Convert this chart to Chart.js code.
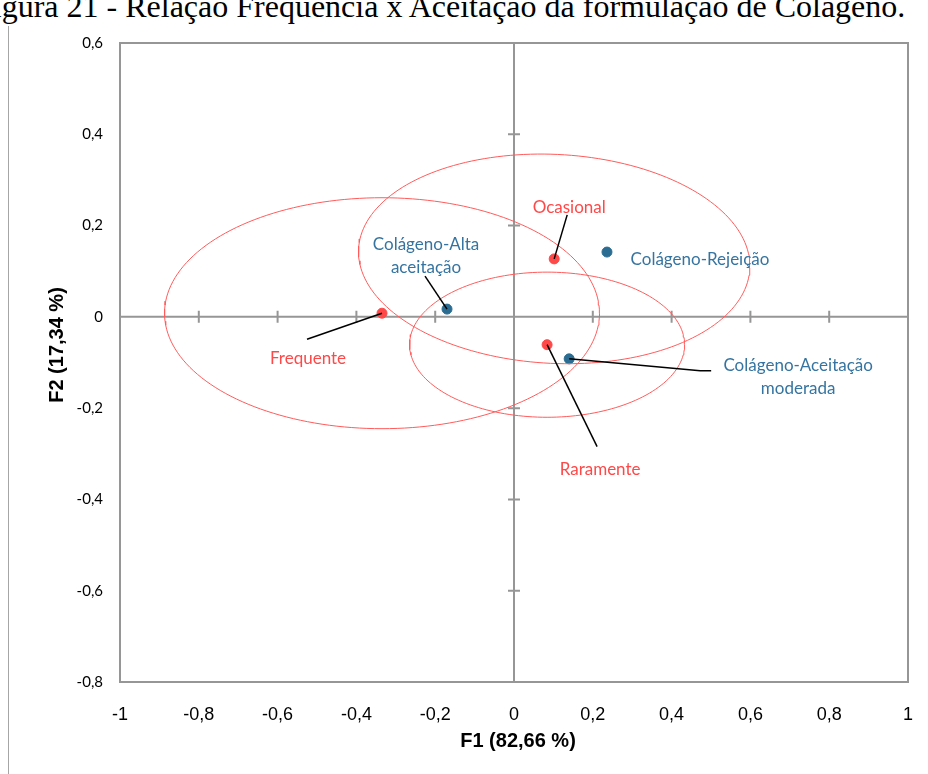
<!DOCTYPE html>
<html lang="pt">
<head>
<meta charset="utf-8">
<title>Relação Frequência x Aceitação</title>
<script src="https://cdn.jsdelivr.net/npm/chart.js"></script>
<style>
  html, body { margin: 0; padding: 0; background: #fff; }
  #pagina { position: relative; width: 928px; height: 774px; overflow: hidden; }
  #legenda { position: absolute; left: -25px; top: -10px; font: 32px "Liberation Serif", "Times New Roman", serif;
             line-height: 1; white-space: nowrap; color: #000; }
  #margem { position: absolute; left: 8px; top: 26px; bottom: 0; width: 1px; background: #a6a6a6; }
  #grafico { position: absolute; left: 0; top: 0; }
</style>
</head>
<body>
<div id="pagina">
  <div id="legenda">Figura 21 - Relação Frequência x Aceitação da formulação de Colágeno.</div>
  <div id="margem"></div>
  <canvas id="grafico" width="928" height="774"></canvas>
</div>
<script>
// frequência de consumo (F1, F2)
const frequencias = ['Frequente', 'Ocasional', 'Raramente'];
const freqF1 = [-0.335, 0.102, 0.084];
const freqF2 = [0.008, 0.127, -0.061];

// elipses de confiança em torno de cada frequência: semi-eixos e rotação (rad)
const elipseSemiF1 = [0.552, 0.497, 0.349];
const elipseSemiF2 = [0.253, 0.229, 0.159];
const elipseRot = [0, -0.04, 0];

// aceitação da formulação
const aceitacoes = ['Colágeno-Alta aceitação', 'Colágeno-Rejeição', 'Colágeno-Aceitação moderada'];
const aceF1 = [-0.170, 0.236, 0.140];
const aceF2 = [0.017, 0.142, -0.092];

const ticksF1 = [-1, -0.8, -0.6, -0.4, -0.2, 0, 0.2, 0.4, 0.6, 0.8, 1];
const ticksF2 = [-0.8, -0.6, -0.4, -0.2, 0, 0.2, 0.4, 0.6];

const VERMELHO = '#ff4848';
const AZUL = '#2b6d92';
const AZUL_TEXTO = '#3574a0';
const CINZA = '#969696';

// onde fica o centro do texto de cada ponto (deslocamento em px) e a linha guia
const rotulosFreq = [
  { linhas: ['Frequente'], texto: [-74, 45], guia: [[-75, 26]] },
  { linhas: ['Ocasional'], texto: [15, -51], guia: [[13, -44]] },
  { linhas: ['Raramente'], texto: [53, 125], guia: [[50, 102]] }
];
const rotulosAce = [
  { linhas: ['Colágeno-Alta', 'aceitação'], texto: [-21, -65], guia: [[-22, -33]] },
  { linhas: ['Colágeno-Rejeição'], texto: [93, 7], guia: [] },
  { linhas: ['Colágeno-Aceitação', 'moderada'], texto: [229, 7], guia: [[131, 12], [142, 12]] }
];

function contornoElipse(i) {
  const pts = [];
  const cr = Math.cos(elipseRot[i]), sr = Math.sin(elipseRot[i]);
  for (let k = 0; k <= 180; k++) {
    const t = k / 180 * 2 * Math.PI;
    const a = elipseSemiF1[i] * Math.cos(t), b = elipseSemiF2[i] * Math.sin(t);
    pts.push({ x: freqF1[i] + a * cr - b * sr, y: freqF2[i] + a * sr + b * cr });
  }
  return pts;
}

function formatarTick(v) {
  return String(Math.round(v * 10) / 10).replace('.', ',');
}

const molduraEixos = {
  id: 'molduraEixos',
  beforeDatasetsDraw(chart) {
    const { ctx, chartArea: a, scales: { x, y } } = chart;
    const x0 = x.getPixelForValue(0), y0 = y.getPixelForValue(0);
    ctx.save();
    ctx.strokeStyle = CINZA;
    ctx.lineWidth = 2;
    ctx.strokeRect(a.left, a.top, a.width, a.height);
    ctx.beginPath();
    ctx.moveTo(a.left, y0); ctx.lineTo(a.right, y0);
    ctx.moveTo(x0, a.top); ctx.lineTo(x0, a.bottom);
    ticksF1.slice(1, -1).forEach(v => {
      const px = x.getPixelForValue(v);
      ctx.moveTo(px, y0 - 6); ctx.lineTo(px, y0 + 6);
    });
    ticksF2.slice(1, -1).forEach(v => {
      const py = y.getPixelForValue(v);
      ctx.moveTo(x0 - 6, py); ctx.lineTo(x0 + 6, py);
    });
    ctx.stroke();
    ctx.restore();
  }
};

function desenharRotulos(ctx, meta, rotulos, cor) {
  meta.data.forEach((el, i) => {
    const r = rotulos[i];
    if (r.guia.length) {
      ctx.beginPath();
      ctx.moveTo(el.x, el.y);
      r.guia.forEach(p => ctx.lineTo(el.x + p[0], el.y + p[1]));
      ctx.strokeStyle = '#000';
      ctx.lineWidth = 1.5;
      ctx.stroke();
    }
    ctx.fillStyle = cor;
    ctx.textBaseline = 'middle';
    ctx.textAlign = 'center';
    r.linhas.forEach((linha, j) => {
      ctx.fillText(linha, el.x + r.texto[0], el.y + r.texto[1] + j * 23);
    });
  });
}

const rotulosPontos = {
  id: 'rotulosPontos',
  afterDatasetsDraw(chart) {
    const { ctx, chartArea: a } = chart;
    ctx.save();
    ctx.font = '17px Lato, "Open Sans", sans-serif';
    desenharRotulos(ctx, chart.getDatasetMeta(3), rotulosFreq, VERMELHO);
    desenharRotulos(ctx, chart.getDatasetMeta(4), rotulosAce, AZUL_TEXTO);

    // títulos dos eixos
    ctx.fillStyle = '#000';
    ctx.font = 'bold 20px "Liberation Sans", Arial, sans-serif';
    ctx.textAlign = 'center';
    ctx.textBaseline = 'middle';
    ctx.fillText('F1 (82,66 %)', (a.left + a.right) / 2 + 4, a.bottom + 59);
    ctx.translate(57, a.top + 302);
    ctx.rotate(-Math.PI / 2);
    ctx.fillText('F2 (17,34 %)', 0, 0);
    ctx.restore();
  }
};

const elipses = frequencias.map((nome, i) => ({
  label: nome,
  data: contornoElipse(i),
  showLine: true,
  borderColor: '#ff5c5c',
  borderWidth: 1,
  pointRadius: 0,
  fill: false,
  tension: 0
}));

new Chart(document.getElementById('grafico'), {
  type: 'scatter',
  data: {
    datasets: [
      ...elipses,
      {
        label: 'Frequência',
        data: freqF1.map((v, i) => ({ x: v, y: freqF2[i] })),
        backgroundColor: VERMELHO,
        borderColor: VERMELHO,
        pointRadius: 5
      },
      {
        label: 'Aceitação',
        data: aceF1.map((v, i) => ({ x: v, y: aceF2[i] })),
        backgroundColor: AZUL,
        borderColor: AZUL,
        pointRadius: 5
      }
    ]
  },
  options: {
    responsive: false,
    animation: false,
    layout: { padding: { top: 43, right: 20, left: 0, bottom: 0 } },
    plugins: { legend: { display: false }, tooltip: { enabled: false } },
    scales: {
      x: {
        min: -1, max: 1,
        afterBuildTicks: s => { s.ticks = ticksF1.map(v => ({ value: v })); },
        afterFit: s => { s.height = 92; s.paddingLeft = 0; s.paddingRight = 0; },
        grid: { display: false, drawTicks: false },
        border: { display: false },
        ticks: {
          padding: 22, color: '#000', maxRotation: 0, autoSkip: false,
          font: { family: '"Liberation Sans", Arial, sans-serif', size: 18 },
          callback: v => formatarTick(v)
        }
      },
      y: {
        min: -0.8, max: 0.6,
        afterBuildTicks: s => { s.ticks = ticksF2.map(v => ({ value: v })); },
        afterFit: s => { s.width = 120; s.paddingTop = 0; s.paddingBottom = 0; },
        grid: { display: false, drawTicks: false },
        border: { display: false },
        ticks: {
          padding: 17, color: '#000', autoSkip: false,
          font: { family: 'Lato, "Open Sans", sans-serif', size: 15 },
          callback: v => formatarTick(v)
        }
      }
    }
  },
  plugins: [molduraEixos, rotulosPontos]
});
</script>
</body>
</html>
